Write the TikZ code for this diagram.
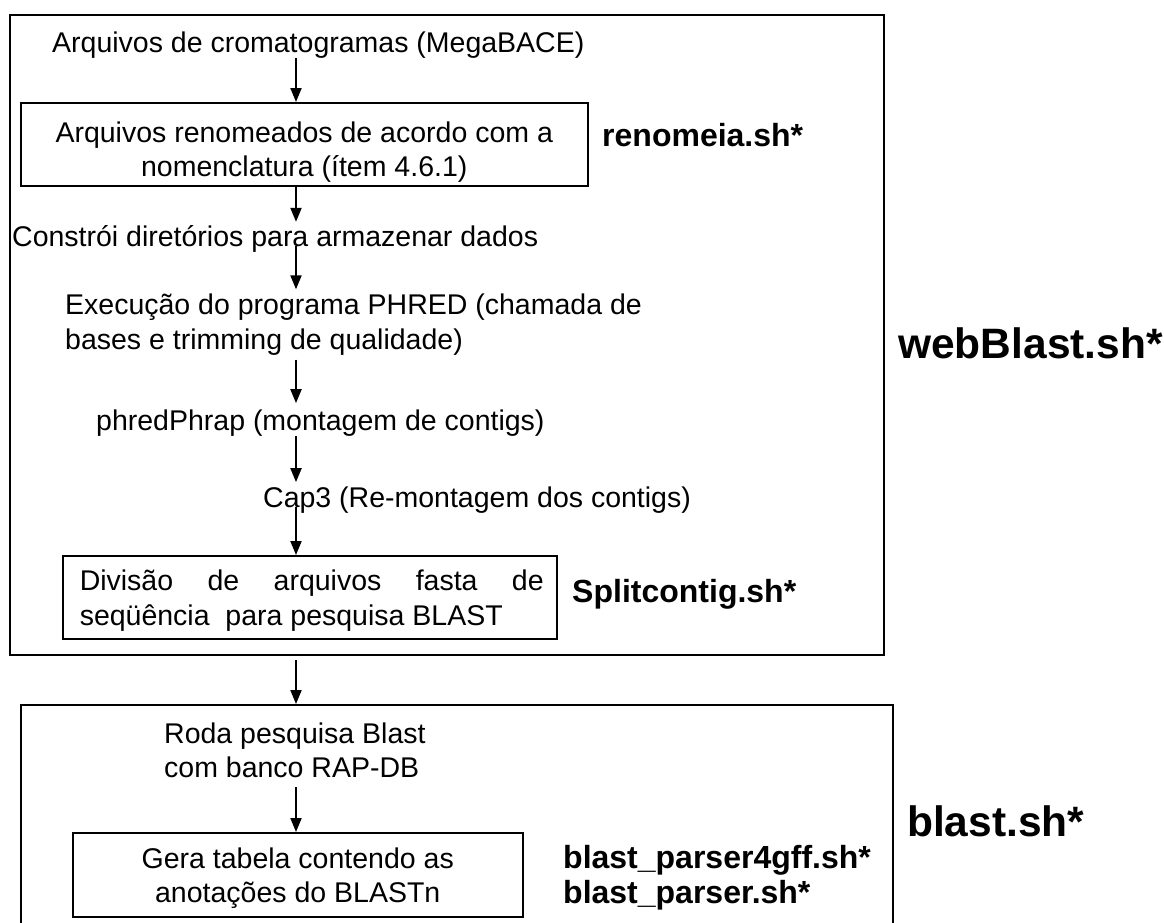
\documentclass[tikz,border=0pt]{standalone}
\usepackage{fontspec}
\setmainfont{Liberation Sans}
\usetikzlibrary{arrows.meta}
\begin{document}
\begin{tikzpicture}[x=1pt,y=-1pt,
  txt/.style={font=\fontsize{28.5}{34}\selectfont, inner sep=0pt, anchor=base west},
  lbl/.style={font=\fontsize{32}{35}\selectfont\bfseries, inner sep=0pt, anchor=base west},
  big/.style={font=\fontsize{42.5}{48}\selectfont\bfseries, inner sep=0pt, anchor=base west},
  frame/.style={draw, line width=1.8pt, inner sep=0pt, anchor=north west},
  stepbox/.style={draw, line width=1.5pt, inner sep=0pt, anchor=north west, font=\fontsize{28.5}{34}\selectfont},
  arr/.style={line width=2pt, -{Triangle[length=14pt,width=11pt]}}
]
\useasboundingbox (0,0) rectangle (1164,922);
\fill[white] (0,0) rectangle (1164,922);
\clip (0,0) rectangle (1164,922);

% outer frames
\node[frame, minimum width=874pt, minimum height=640pt] (web) at (9,14) {};
\node[frame, minimum width=872pt, minimum height=260pt] (blastf) at (20,704) {};

% texts and boxes
\node[txt] (src) at (52,52) {Arquivos de cromatogramas (MegaBACE)};
\node[stepbox] (ren) at (20,102) {\parbox[c][83pt][t]{567pt}{\centering\vspace*{16.2pt}\strut Arquivos renomeados de acordo com a\\ nomenclatura (ítem 4.6.1)\par}};
\node[txt] (dirs) at (12,246) {Constrói diretórios para armazenar dados};
\node[txt, font=\fontsize{28.5}{35}\selectfont] (phred) at (65,314) {\begin{tabular}[t]{@{}l@{}}Execução do programa PHRED (chamada de\\ bases e trimming de qualidade)\end{tabular}};
\node[txt] (phrap) at (96,430) {phredPhrap (montagem de contigs)};
\node[txt] (cap3) at (263,507) {Cap3 (Re-montagem dos contigs)};
\node[stepbox, font=\fontsize{28.5}{35}\selectfont] (split) at (62,555) {\parbox[c][83pt][t]{494pt}{\vspace*{10.5pt}\hspace*{17pt}\parbox[t]{464pt}{\strut Divisão de arquivos fasta de\linebreak seqüência\ \ para pesquisa BLAST}}};

\node[txt] (roda) at (164,743) {\begin{tabular}[t]{@{}l@{}}Roda pesquisa Blast\\ com banco RAP-DB\end{tabular}};
\node[stepbox] (gera) at (72,832) {\parbox[c][84pt][t]{450pt}{\centering\vspace*{12.2pt}\strut Gera tabela contendo as\\ anotações do BLASTn\par}};

% script labels
\node[lbl] (renl) at (602,146) {renomeia.sh*};
\node[lbl] (splitl) at (572,602) {Splitcontig.sh*};
\node[lbl, font=\fontsize{32}{35}\selectfont\bfseries] (parsl) at (563,868) {\begin{tabular}[t]{@{}l@{}}blast\_parser4gff.sh*\\ blast\_parser.sh*\end{tabular}};
\node[big] (webl) at (898,358) {webBlast.sh*};
\node[big] (blastl) at (907,836) {blast.sh*};

% arrows
\coordinate (ax) at (296,0);
\draw[arr] (ax |- src.south) -- (ax |- ren.north);
\draw[arr, shorten >=3pt] (ax |- ren.south) -- (ax |- dirs.north);
\draw[arr] (ax |- dirs.base) -- (ax |- phred.north);
\draw[arr, shorten >=6pt] (ax |- phred.south) -- (ax |- phrap.north);
\draw[arr, shorten >=4pt] (ax |- phrap.south) -- (ax |- cap3.north);
\draw[arr] (ax |- cap3.base) -- (ax |- split.north);
\draw[arr, shorten <=4pt] (ax |- web.south) -- (ax |- blastf.north);
\draw[arr] (ax |- roda.south) -- (ax |- gera.north);
\end{tikzpicture}
\end{document}
